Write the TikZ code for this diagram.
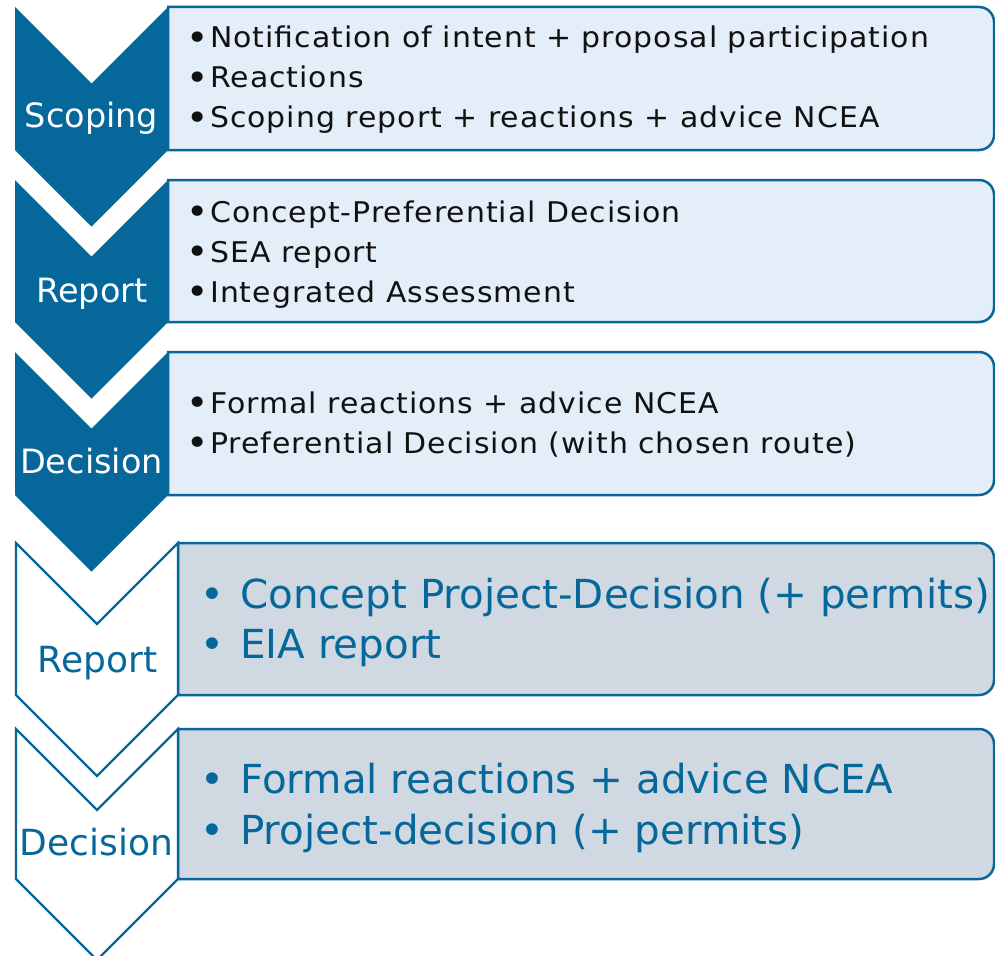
\documentclass[tikz,border=0pt]{standalone}
\usepackage{fontspec}
\setmainfont{DejaVu Sans}
\newfontfamily\wideface[LetterSpace=3.5,FakeStretch=1.05]{DejaVu Sans}
\newfontfamily\bigface[FakeStretch=1.01]{DejaVu Sans}
\definecolor{deepblue}{HTML}{05679A}
\definecolor{paleblue}{HTML}{E3EEF8}
\definecolor{greyblue}{HTML}{D0D9E2}
\definecolor{inkdark}{HTML}{111111}
\newcommand{\smallbul}{\makebox[24pt][l]{\raisebox{-2.5pt}{\fontsize{36}{36}\selectfont•}}}
\newcommand{\bigbul}{\makebox[40pt][l]{•}}
\begin{document}
\begin{tikzpicture}[x=1pt,y=1pt,
  solidchev/.style={fill=deepblue,draw=none},
  openchev/.style={fill=white,draw=deepblue,line width=2.2pt,line join=miter},
  upperbox/.style={fill=paleblue,draw=deepblue,line width=2.5pt},
  lowerbox/.style={fill=greyblue,draw=deepblue,line width=2.5pt},
  stagelbl/.style={anchor=base,inner sep=0pt,text=white,font=\fontsize{33.5}{40}\selectfont},
  openlbl/.style={anchor=base,inner sep=0pt,text=deepblue,font=\fontsize{36}{42}\selectfont},
  itemsmall/.style={anchor=base west,inner sep=0pt,text=inkdark,font=\wideface\fontsize{28.5}{40}\selectfont},
  itembig/.style={anchor=base west,inner sep=0pt,text=deepblue,font=\bigface\fontsize{40}{50}\selectfont}]
\useasboundingbox (0,0) rectangle (995,-955);
\clip (0,0) rectangle (995,-955);

% --- upper phase: content boxes (rounded on the right only)
\draw[upperbox] (168,-7) -- (979,-7) arc[start angle=90,end angle=0,radius=15]
  -- (994,-135) arc[start angle=0,end angle=-90,radius=15] -- (168,-150) -- cycle;
\draw[upperbox] (168,-180) -- (979,-180) arc[start angle=90,end angle=0,radius=15]
  -- (994,-307) arc[start angle=0,end angle=-90,radius=15] -- (168,-322) -- cycle;
\draw[upperbox] (168,-352) -- (979,-352) arc[start angle=90,end angle=0,radius=15]
  -- (994,-480) arc[start angle=0,end angle=-90,radius=15] -- (168,-495) -- cycle;

% --- upper phase: filled chevrons
\fill[solidchev] (15,-7) -- (91.5,-83.5) -- (168,-7) -- (168,-150) -- (91.5,-226.5) -- (15,-150) -- cycle;
\fill[solidchev] (15,-180) -- (91.5,-256.5) -- (168,-180) -- (168,-322) -- (91.5,-398.5) -- (15,-322) -- cycle;
\fill[solidchev] (15,-352) -- (91.5,-428.5) -- (168,-352) -- (168,-495) -- (91.5,-571.5) -- (15,-495) -- cycle;

% --- lower phase: content boxes
\draw[lowerbox] (178,-543) -- (979,-543) arc[start angle=90,end angle=0,radius=15]
  -- (994,-680) arc[start angle=0,end angle=-90,radius=15] -- (178,-695) -- cycle;
\draw[lowerbox] (178,-729) -- (979,-729) arc[start angle=90,end angle=0,radius=15]
  -- (994,-864) arc[start angle=0,end angle=-90,radius=15] -- (178,-879) -- cycle;

% --- lower phase: outlined chevrons
\draw[openchev] (16,-543) -- (97,-624) -- (178,-543) -- (178,-695) -- (97,-776) -- (16,-695) -- cycle;
\draw[openchev] (16,-729) -- (97,-810) -- (178,-729) -- (178,-879) -- (97,-960) -- (16,-879) -- cycle;

% --- stage labels
\node[stagelbl] (lscope) at (91.5,-128) {Scoping};
\node[stagelbl] (lrep1)  at (92,-302) {Report};
\node[stagelbl] (ldec1)  at (91.5,-473) {Decision};
\node[openlbl]  (lrep2)  at (97.5,-672) {Report};
\node[openlbl]  (ldec2)  at (96.5,-855) {Decision};

% --- items
\node[itemsmall] (a1) at (186,-48)  {\smallbul Notification of intent + proposal participation};
\node[itemsmall] (a2) at (186,-88)  {\smallbul Reactions};
\node[itemsmall] (a3) at (186,-128) {\smallbul Scoping report + reactions + advice NCEA};
\node[itemsmall] (b1) at (186,-222) {\smallbul Concept-Preferential Decision};
\node[itemsmall] (b2) at (186,-262) {\smallbul SEA report};
\node[itemsmall] (b3) at (186,-302) {\smallbul Integrated Assessment};
\node[itemsmall] (c1) at (186,-413) {\smallbul Formal reactions + advice NCEA};
\node[itemsmall] (c2) at (186,-453) {\smallbul Preferential Decision (with chosen route)};
\node[itembig] (d1) at (200,-608) {\bigbul Concept Project-Decision (+ permits)};
\node[itembig] (d2) at (200,-658) {\bigbul EIA report};
\node[itembig] (e1) at (200,-793) {\bigbul Formal reactions + advice NCEA};
\node[itembig] (e2) at (200,-844) {\bigbul Project-decision (+ permits)};
\end{tikzpicture}
\end{document}
